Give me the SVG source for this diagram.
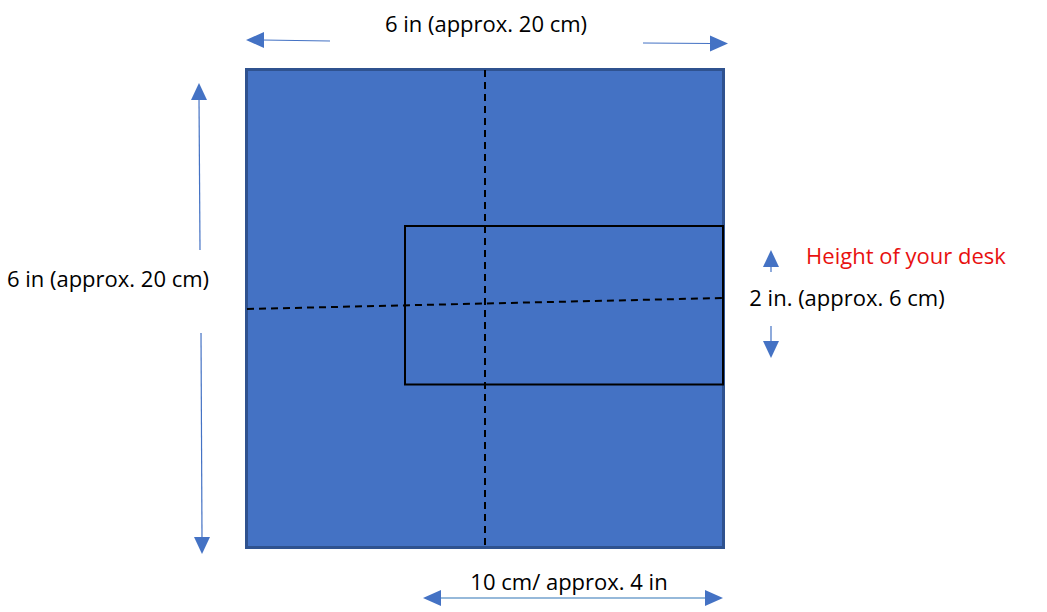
<svg xmlns="http://www.w3.org/2000/svg" width="1047" height="612" viewBox="0 0 1047 612">
<style>
text{font-family:"Open Sans","Liberation Sans",sans-serif;font-size:22px;fill:#000}
.red{fill:#E81010}
.ar{stroke:#4472C4;stroke-width:1.2;fill:none}
.hd{fill:#4472C4}
.dash{stroke:#000;stroke-width:2;stroke-dasharray:7 5;fill:none}
</style>
<rect width="1047" height="612" fill="#fff"/>
<g id="square">
<rect x="246.5" y="69.5" width="477" height="478" fill="#4472C4" stroke="#2F528F" stroke-width="3"/>
<line class="dash" x1="485" y1="70" x2="485" y2="547"/>
<line class="dash" x1="247" y1="309" x2="723" y2="298"/>
</g>
<g id="desk">
<rect x="405" y="226" width="318" height="158.5" fill="none" stroke="#000" stroke-width="2"/>
</g>
<g id="connectors">
<line class="ar" x1="330" y1="41" x2="262" y2="40"/>
<polygon class="hd" points="246,40 264,32 264,48"/>
<line class="ar" x1="643" y1="43" x2="712" y2="43.5"/>
<polygon class="hd" points="728,43.5 710,35.5 710,51.5"/>
<line class="ar" x1="200" y1="250" x2="199" y2="98"/>
<polygon class="hd" points="199,83 191,100 207,100"/>
<line class="ar" x1="201" y1="333" x2="202" y2="538"/>
<polygon class="hd" points="202,554 194,537 210,537"/>
<line class="ar" x1="771" y1="272" x2="771" y2="264"/>
<polygon class="hd" points="771,250 763,267 779,267"/>
<line class="ar" x1="771" y1="326" x2="771" y2="342"/>
<polygon class="hd" points="771,358 763,341 779,341"/>
<line class="ar" x1="438" y1="598" x2="708" y2="598" style="stroke:#2E75B6"/>
<polygon class="hd" points="423,598 441,590 441,606"/>
<polygon class="hd" points="723,598 705,590 705,606"/>
</g>
<g id="labels">
<text x="486" y="32" text-anchor="middle">6 in (approx. 20 cm)</text>
<text x="108" y="287" text-anchor="middle">6 in (approx. 20 cm)</text>
<text x="906" y="264" text-anchor="middle" class="red">Height of your desk</text>
<text x="847" y="306" text-anchor="middle">2 in. (approx. 6 cm)</text>
<text x="569" y="590" text-anchor="middle">10 cm/ approx. 4 in</text>
</g>
</svg>
